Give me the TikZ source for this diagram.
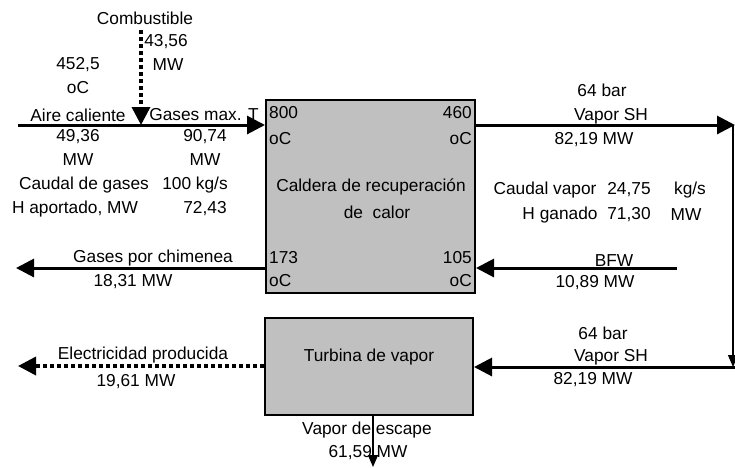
\documentclass[tikz,border=0pt]{standalone}
\usepackage{fontspec}
\setmainfont{Liberation Sans}
\usetikzlibrary{arrows.meta}
\definecolor{boxgray}{RGB}{192,192,192}
\newcommand{\sizetxt}{\fontsize{17.3}{20}\selectfont}
\tikzset{
    unit/.style={draw, line width=2pt, fill=boxgray, inner sep=0pt},
    flow/.style={line width=3pt, -{Triangle[length=18pt, width=18pt]}},
    power/.style={flow, line width=3.5pt, dash pattern=on 4pt off 3pt},
    thinflow/.style={line width=1.3pt, -{Triangle[length=12pt, width=10pt]}},
    txt/.style={inner sep=0pt, font=\sizetxt},
    txtl/.style={txt, anchor=west},
    txtr/.style={txt, anchor=east}
}

\begin{document}
\begin{tikzpicture}[x=1pt, y=-1pt]
    \useasboundingbox (0,0) rectangle (735,467);

    % units
    \node[unit, minimum width=209pt, minimum height=193pt] (boiler) at (370.5,196.5) {};
    \node[unit, minimum width=208pt, minimum height=97pt] (turbine) at (369,366.5) {};

    % free ends
    \coordinate (airin) at (18,125);
    \coordinate (fuelin) at (141,30);
    \coordinate (mixpt) at (141,125);
    \coordinate (shout) at (735,125);
    \coordinate (shcorner) at (733,125);
    \coordinate (shdown) at (733,367);
    \coordinate (shin) at (735,367);
    \coordinate (stack) at (16,268);
    \coordinate (bfwin) at (677,268);
    \coordinate (elecout) at (18,366);
    \coordinate (exhaust) at (373,467);

    % streams
    \draw[flow] (airin) -- (boiler.west |- airin);
    \draw[power] (fuelin) -- (mixpt);
    \draw[flow] (boiler.east |- shout) -- (shout);
    \draw[thinflow] (shcorner) -- (shdown);
    \draw[flow] (shin) -- (turbine.east |- shin);
    \draw[flow] (boiler.west |- stack) -- (stack);
    \draw[flow] (bfwin) -- (boiler.east |- bfwin);
    \draw[power] (turbine.west |- elecout) -- (elecout);
    \draw[thinflow] (exhaust |- turbine.south) -- (exhaust);

    % inlet side
    \node[txt] (fuel) at (145,18) {Combustible};
    \node[txt] (fuelmw) at (166,42) {43,56};
    \node[txt] (fuelunit) at (168,65) {MW};
    \node[txt] (airt) at (78,65) {452,5};
    \node[txt] (airtunit) at (78,88) {oC};
    \node[txt] (air) at (78,115) {Aire caliente};
    \node[txt] (gasmax) at (204,115) {Gases max. T};
    \node[txt] (airmw) at (78,137) {49,36};
    \node[txt] (airunit) at (78,160) {MW};
    \node[txt] (gasmw) at (205,137) {90,74};
    \node[txt] (gasunit) at (205,160) {MW};
    \node[txt] (gasflow) at (84,185) {Caudal de gases};
    \node[txt] (gasflowval) at (195,185) {100 kg/s};
    \node[txt] (hin) at (75,209) {H aportado, MW};
    \node[txt] (hinval) at (205,209) {72,43};

    % boiler
    \node[txtl] (tin) at (269,113) {800};
    \node[txtl] (tinunit) at (269,139) {oC};
    \node[txtr] (tsh) at (472,113) {460};
    \node[txtr] (tshunit) at (472,139) {oC};
    \node[txtl] (tstack) at (269,258) {173};
    \node[txtl] (tstackunit) at (269,281) {oC};
    \node[txtr] (tbfw) at (472,258) {105};
    \node[txtr] (tbfwunit) at (472,281) {oC};
    \node[txt] (hrsg) at (371,187) {Caldera de recuperación};
    \node[txt] (hrsgb) at (377,212) {de\ \ calor};

    % steam side
    \node[txt] (shp) at (602,90) {64 bar};
    \node[txt] (sh) at (611,116) {Vapor SH};
    \node[txt] (shmw) at (594,140) {82,19 MW};
    \node[txt] (stflow) at (545,190) {Caudal vapor};
    \node[txt] (stflowval) at (629,190) {24,75};
    \node[txt] (stflowunit) at (690,190) {kg/s};
    \node[txt] (hgain) at (560,215) {H ganado};
    \node[txt] (hgainval) at (629,215) {71,30};
    \node[txt] (hgainunit) at (686,215) {MW};
    \node[txt] (bfw) at (614,261) {BFW};
    \node[txt] (bfwmw) at (595,283) {10,89 MW};
    \node[txt] (stackl) at (153,258) {Gases por chimenea};
    \node[txt] (stackmw) at (133,282) {18,31 MW};

    % turbine
    \node[txt] (stt) at (369,357) {Turbina de vapor};
    \node[txt] (shp2) at (603,333) {64 bar};
    \node[txt] (sh2) at (611,357) {Vapor SH};
    \node[txt] (shmw2) at (593,380) {82,19 MW};
    \node[txt] (elec) at (143,355) {Electricidad producida};
    \node[txt] (elecmw) at (136,382) {19,61 MW};
    \node[txt] (exh) at (367,430) {Vapor de escape};
    \node[txt] (exhmw) at (368,453) {61,59 MW};
\end{tikzpicture}
\end{document}
